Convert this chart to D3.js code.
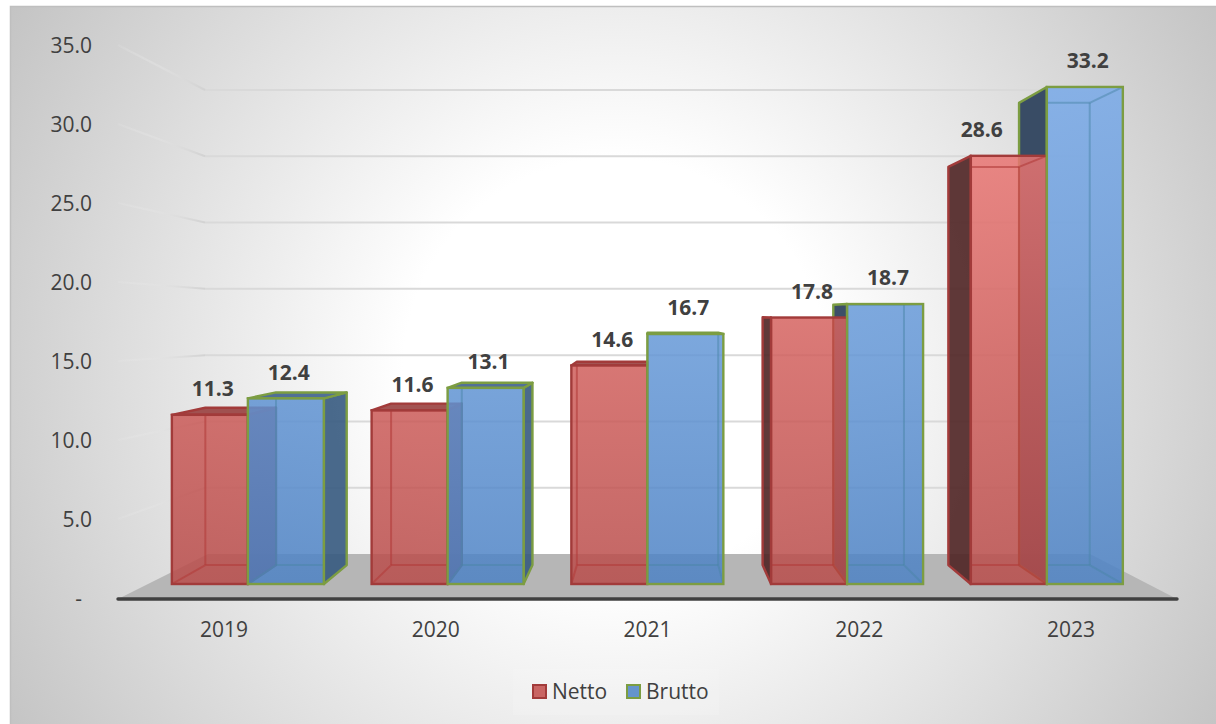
<!DOCTYPE html>
<html>
<head>
<meta charset="utf-8">
<style>
html,body{margin:0;padding:0;background:#fff}
svg{display:block}
text{font-family:"Open Sans","Noto Sans",sans-serif}
</style>
<script src="https://cdn.jsdelivr.net/npm/d3@7/dist/d3.min.js"></script>
</head>
<body>
<svg id="chart" width="1216" height="724"></svg>
<script>
const years = ["2019","2020","2021","2022","2023"];
const seriesNames = ["Netto","Brutto"];
const netto = [11.3,11.6,14.6,17.8,28.6];
const brutto = [12.4,13.1,16.7,18.7,33.2];
const yTicks = [0,5,10,15,20,25,30,35];

const svg = d3.select("#chart");
const defs = svg.append("defs");

// Chart-area backdrop
const bg = defs.append("radialGradient").attr("id","bg")
  .attr("gradientUnits","userSpaceOnUse").attr("cx",615).attr("cy",370).attr("r",705);
[[0,"#ffffff"],[.3,"#ffffff"],[1,"#c4c4c4"]].forEach(([o,c])=>bg.append("stop").attr("offset",o).attr("stop-color",c));

function vertical(id,top,mid,bottom){
  const g = defs.append("linearGradient").attr("id",id).attr("gradientUnits","userSpaceOnUse")
    .attr("x1",0).attr("x2",0).attr("y1",60).attr("y2",584);
  g.append("stop").attr("offset",0).attr("stop-color",top);
  g.append("stop").attr("offset",.55).attr("stop-color",mid);
  g.append("stop").attr("offset",1).attr("stop-color",bottom);
}
vertical("fillNetto","#f47f7c","#d2605d","#b84c4a");
vertical("fillBrutto","#7aabea","#6497d6","#4d82c4");

const fade = defs.append("linearGradient").attr("id","fade").attr("gradientUnits","userSpaceOnUse")
  .attr("x1",118).attr("x2",205).attr("y1",0).attr("y2",0);
fade.append("stop").attr("offset",0).attr("stop-color","#ececec").attr("stop-opacity",.12);
fade.append("stop").attr("offset",.5).attr("stop-color","#e2e2e2").attr("stop-opacity",.55);
fade.append("stop").attr("offset",1).attr("stop-color","#d2d2d2").attr("stop-opacity",1);

// The panel runs off the right and bottom of the page, so only its top and left edges show
svg.append("rect").attr("x",10.5).attr("y",6.5).attr("width",1215).attr("height",730)
  .attr("fill","url(#bg)").attr("stroke","#bfbfbf").attr("stroke-width",1.5);

// Three value scales: the axis edge, the front plane of the bars and the back wall
const yAxisScale = d3.scaleLinear().domain([0,35]).range([598,45]);
const yFront = d3.scaleLinear().domain([0,35]).range([584,60]);
const yWall = d3.scaleLinear().domain([0,35]).range([554,90]);

const xAxisScale = d3.scaleBand().domain(years).range([118,1177]);
const xFront = d3.scaleBand().domain(years).range([148,1146.7]);
const xSeries = d3.scaleBand().domain(seriesNames).range([0,xFront.step()]).paddingInner(0).paddingOuter(.314);

// Projection of a front-plane point onto the rear of a bar
const depth = .93, vanishX = 650, vanishY = 314;
const backX = x => vanishX + depth*(x-vanishX);
const backY = y => vanishY + depth*(y-vanishY);

// Floor
const floorPts = [[118,599],[1177,599],[1090,554],[208,554]];
svg.append("polygon").attr("points",floorPts.join(" ")).attr("fill","#b6b6b6");

// Wall and side gridlines
const gridG = svg.append("g");
yTicks.filter(d=>d>0).forEach(v=>{
  gridG.append("line").attr("x1",205).attr("x2",1092).attr("y1",yWall(v)).attr("y2",yWall(v))
    .attr("stroke","#d9d9d9").attr("stroke-width",2);
  gridG.append("path").attr("d",d3.line()([[118,yAxisScale(v)],[205,yWall(v)]]))
    .attr("fill","none").attr("stroke","url(#fade)").attr("stroke-width",2);
});

const poly = pts => d3.line().curve(d3.curveLinearClosed)(pts);

const palette = {
  Netto:{fill:"url(#fillNetto)",swatch:"#c96563",edge:"#a23b3a",inner:"#b23c3a",innerOpacity:.6,left:"#4f2324",right:"#8a3434",top:"#98403f"},
  Brutto:{fill:"url(#fillBrutto)",swatch:"#6594cd",edge:"#7c9d42",inner:"#4a86a8",innerOpacity:.5,left:"#273c58",right:"#365a80",top:"#3f628c"}
};

function boxParts(name,year,value){
  const x0 = xFront(year)+xSeries(name), x1 = x0+xSeries.bandwidth();
  const yT = yFront(value), yB = yFront(0);
  const bx0=backX(x0), bx1=backX(x1), byT=backY(yT), byB=backY(yB);
  const faces = [];
  const leftOut = bx0 < x0-.5, rightOut = bx1 > x1+.5, topOut = byT < yT-.5;
  faces.push({pts:[[x0,yT],[bx0,byT],[bx0,byB],[x0,yB]],out:leftOut,kind:"left"});
  faces.push({pts:[[x1,yT],[bx1,byT],[bx1,byB],[x1,yB]],out:rightOut,kind:"right"});
  faces.push({pts:[[x0,yT],[x1,yT],[bx1,byT],[bx0,byT]],out:topOut,kind:"top"});
  return {id:name+year,x0,x1,yT,yB,bx0,bx1,byT,byB,faces};
}

function drawSides(g,name,p){
  const c = palette[name];
  p.faces.filter(f=>f.out).forEach(f=>{
    g.append("path").attr("d",poly(f.pts)).attr("fill",c[f.kind]).attr("fill-opacity",.9)
      .attr("stroke",c.edge).attr("stroke-width",2.4).attr("stroke-linejoin","round");
  });
}
function drawFront(g,name,p){
  const c = palette[name];
  g.append("rect").attr("x",p.x0).attr("y",p.yT).attr("width",p.x1-p.x0).attr("height",p.yB-p.yT)
    .attr("fill",c.fill).attr("fill-opacity",.85);
  defs.append("clipPath").attr("id","clip"+p.id).append("rect")
    .attr("x",p.x0).attr("y",p.yT).attr("width",p.x1-p.x0).attr("height",p.yB-p.yT);
  // rear edges showing through the translucent front
  const rear = [[[p.bx0,p.byT],[p.bx0,p.byB]],[[p.bx1,p.byT],[p.bx1,p.byB]],
    [[p.bx0,p.byB],[p.bx1,p.byB]],[[p.bx0,p.byT],[p.bx1,p.byT]],
    [[p.x0,p.yB],[p.bx0,p.byB]],[[p.x1,p.yB],[p.bx1,p.byB]],
    [[p.x0,p.yT],[p.bx0,p.byT]],[[p.x1,p.yT],[p.bx1,p.byT]]];
  const rearG = g.append("g").attr("clip-path",`url(#clip${p.id})`);
  rear.forEach(seg=>{
    rearG.append("path").attr("d",d3.line()(seg)).attr("fill","none")
      .attr("stroke",c.inner).attr("stroke-width",2).attr("stroke-opacity",c.innerOpacity);
  });
  g.append("rect").attr("x",p.x0).attr("y",p.yT).attr("width",p.x1-p.x0).attr("height",p.yB-p.yT)
    .attr("fill","none").attr("stroke",c.edge).attr("stroke-width",2.4);
}

const barsG = svg.append("g");
years.forEach((yr,i)=>{
  const a = boxParts("Netto",yr,netto[i]), b = boxParts("Brutto",yr,brutto[i]);
  if(b.x0 > vanishX){
    // right of the vanishing point the nearer side of Brutto sits behind Netto
    drawSides(barsG,"Brutto",b);
    drawSides(barsG,"Netto",a);
    drawFront(barsG,"Netto",a);
    drawFront(barsG,"Brutto",b);
  } else {
    drawSides(barsG,"Netto",a);
    drawFront(barsG,"Netto",a);
    drawSides(barsG,"Brutto",b);
    drawFront(barsG,"Brutto",b);
  }
});

// Baseline of the floor
svg.append("line").attr("x1",118).attr("x2",1177).attr("y1",599).attr("y2",599)
  .attr("stroke","#404040").attr("stroke-width",3.4).attr("stroke-linecap","round");

// Axes
const axisFont = 21;
const yAxis = svg.append("g").attr("transform","translate(92,1)")
  .call(d3.axisLeft(yAxisScale).tickValues(yTicks).tickSize(0).tickPadding(0)
    .tickFormat(d=>d===0?"-":d3.format(".1f")(d)));
yAxis.select(".domain").remove();
yAxis.selectAll("text").attr("font-size",axisFont).attr("fill","#404040").attr("font-family",null);
yAxis.selectAll(".tick").filter(d=>d===0).select("text").attr("x",-10);

const xAxis = svg.append("g").attr("transform","translate(0,622)")
  .call(d3.axisBottom(xAxisScale).tickSize(0).tickPadding(0));
xAxis.select(".domain").remove();
xAxis.selectAll("text").attr("font-size",axisFont).attr("fill","#404040").attr("font-family",null);

// Value labels; the 2023 Netto label is pulled left so it clears the bars
const labelNudge = {"2023":{Netto:-27}};
const labelsG = svg.append("g").attr("font-size",21).attr("font-weight",700).attr("fill","#404040");
years.forEach((yr,i)=>{
  [["Netto",netto[i]],["Brutto",brutto[i]]].forEach(([name,v])=>{
    const cx = xFront(yr)+xSeries(name)+xSeries.bandwidth()/2;
    const nudge = (labelNudge[yr]&&labelNudge[yr][name]) || 3;
    labelsG.append("text").attr("x",cx+nudge).attr("y",yFront(v)-26)
      .attr("text-anchor","middle").attr("dy",".35em").text(d3.format(".1f")(v));
  });
});

// Legend
const legend = svg.append("g");
legend.append("rect").attr("x",513).attr("y",669).attr("width",206).attr("height",46).attr("fill","#fff").attr("fill-opacity",.12);
const legendX = d3.scaleOrdinal().domain(seriesNames).range([532,626]);
seriesNames.forEach(name=>{
  const c = palette[name], x = legendX(name);
  legend.append("rect").attr("x",x+1).attr("y",685).attr("width",13).attr("height",13)
    .attr("fill",c.swatch).attr("stroke",c.edge).attr("stroke-width",2);
  legend.append("text").attr("x",x+20).attr("y",699).attr("font-size",axisFont).attr("fill","#404040").text(name);
});
</script>
</body>
</html>
